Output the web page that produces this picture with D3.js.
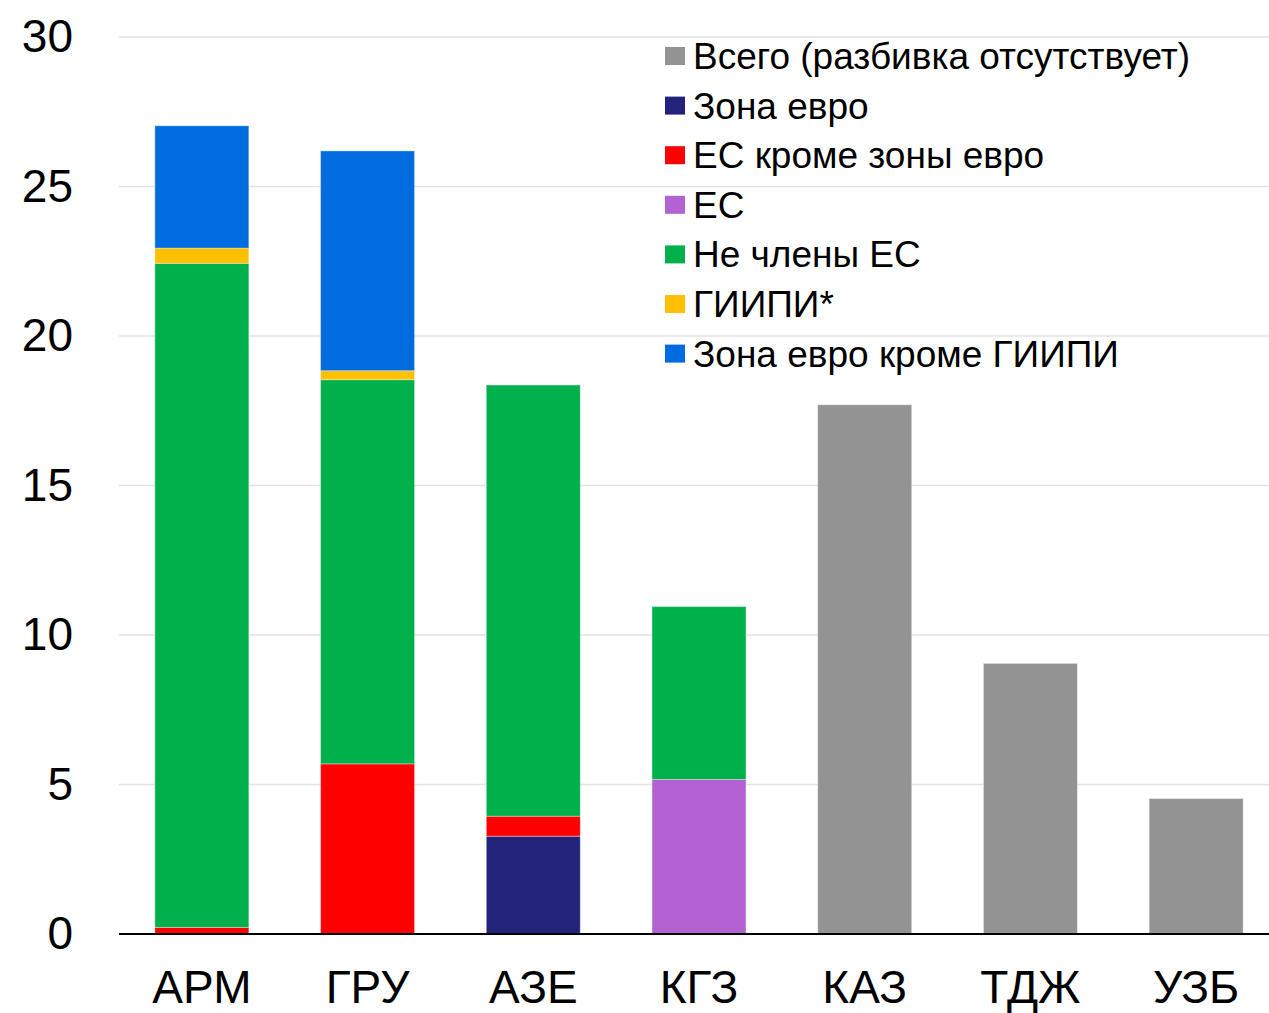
<!DOCTYPE html>
<html><head><meta charset="utf-8">
<script src="https://cdn.jsdelivr.net/npm/d3@7"></script>
<style>html,body{margin:0;padding:0;background:#fff;}svg{display:block;font-family:Arial,"Liberation Sans",sans-serif;}</style>
</head><body>
<svg id="chart" width="1269" height="1013"></svg>
<script>
const categories = ['АРМ','ГРУ','АЗЕ','КГЗ','КАЗ','ТДЖ','УЗБ'];
const seriesNames = ['Всего (разбивка отсутствует)','Зона евро','ЕС кроме зоны евро','ЕС','Не члены ЕС','ГИИПИ*','Зона евро кроме ГИИПИ'];
const seriesColors = ['#939393','#24237c','#fe0000','#b262d2','#00b04a','#ffc000','#006ce0'];
const totalNoSplit   = [0, 0, 0, 0, 17.70, 9.05, 4.53];
const euroArea       = [0, 0, 3.27, 0, 0, 0, 0];
const euExEuro       = [0.22, 5.69, 0.67, 0, 0, 0, 0];
const eu             = [0, 0, 0, 5.17, 0, 0, 0];
const nonEU          = [22.21, 12.85, 14.42, 5.78, 0, 0, 0];
const giipi          = [0.51, 0.30, 0, 0, 0, 0, 0];
const euroExGiipi    = [4.09, 7.35, 0, 0, 0, 0, 0];
const yTicks = [0, 5, 10, 15, 20, 25, 30];

// stacking order bottom -> top
const stackOrder = [
  {name: seriesNames[1], color: seriesColors[1], values: euroArea},
  {name: seriesNames[2], color: seriesColors[2], values: euExEuro},
  {name: seriesNames[3], color: seriesColors[3], values: eu},
  {name: seriesNames[4], color: seriesColors[4], values: nonEU},
  {name: seriesNames[5], color: seriesColors[5], values: giipi},
  {name: seriesNames[6], color: seriesColors[6], values: euroExGiipi},
  {name: seriesNames[0], color: seriesColors[0], values: totalNoSplit}
];

const svg = d3.select('#chart');
const W = 1269;
const x = d3.scaleBand().domain(categories).range([119, 1279]).paddingInner(0.433).paddingOuter(0.2165);
const y = d3.scaleLinear().domain([0, 30]).range([934, 37]);

// gridlines
svg.append('g').selectAll('line').data(yTicks.filter(d => d > 0)).join('line')
  .attr('x1', 119).attr('x2', W)
  .attr('y1', d => y(d)).attr('y2', d => y(d))
  .attr('stroke', '#e3e3e3').attr('stroke-width', 1.3);

// y tick labels
const yAxis = d3.axisLeft(y).tickValues(yTicks).tickSize(0).tickPadding(0).tickFormat(d3.format('d'));
const gy = svg.append('g').attr('transform', 'translate(73,0)').call(yAxis);
gy.select('.domain').remove();
gy.selectAll('text').attr('font-size', 46).attr('fill', '#000').attr('font-family', 'Arial, "Liberation Sans", sans-serif');

// stacked bars
const rows = categories.map((c, i) => {
  const r = {cat: c};
  stackOrder.forEach(s => r[s.name] = s.values[i]);
  return r;
});
const stack = d3.stack().keys(stackOrder.map(s => s.name));
const layers = stack(rows);
svg.append('g').selectAll('g').data(layers).join('g')
  .attr('fill', (d, i) => stackOrder[i].color)
  .selectAll('rect').data(d => d.filter(p => p[1] - p[0] > 0)).join('rect')
  .attr('x', d => x(d.data.cat))
  .attr('width', x.bandwidth())
  .attr('y', d => y(d[1]))
  .attr('height', d => y(d[0]) - y(d[1]))
  .attr('stroke', 'rgba(255,255,255,0.35)').attr('stroke-width', 1);

// x axis line
svg.append('line').attr('x1', 119).attr('x2', W).attr('y1', y(0)).attr('y2', y(0))
  .attr('stroke', '#000').attr('stroke-width', 2);

// x labels
const xAxis = d3.axisBottom(x).tickSize(0).tickPadding(0);
const gx = svg.append('g').attr('transform', `translate(0,${y(0)})`).call(xAxis);
gx.select('.domain').remove();
gx.selectAll('text').attr('font-size', 46).attr('fill', '#000').attr('dy', null).attr('y', 69)
  .attr('font-family', 'Arial, "Liberation Sans", sans-serif');

// legend
const legend = svg.append('g').attr('transform', 'translate(665,56)');
const li = legend.selectAll('g').data(seriesNames).join('g')
  .attr('transform', (d, i) => `translate(0,${i * 49.6})`);
li.append('rect').attr('x', 0).attr('y', -9).attr('width', 20).attr('height', 18)
  .attr('fill', (d, i) => seriesColors[i]);
li.append('text').attr('x', 28).attr('y', 0).attr('dy', '0.35em')
  .attr('font-size', 37).attr('fill', '#000').text(d => d);
</script>
</body></html>
